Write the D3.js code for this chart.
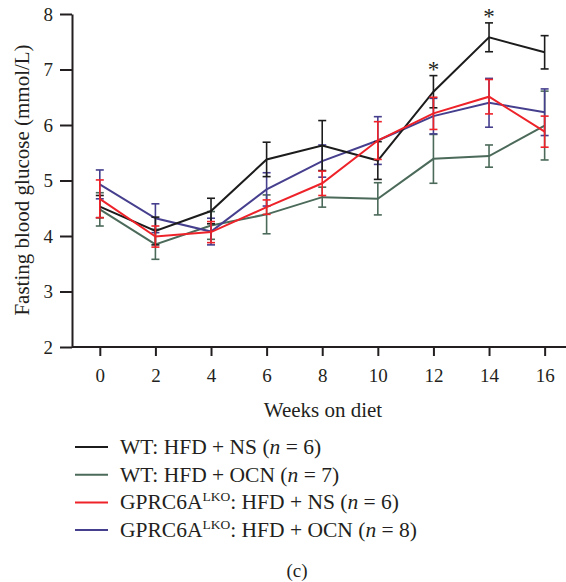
<!DOCTYPE html>
<html>
<head>
<meta charset="utf-8">
<script src="https://cdn.jsdelivr.net/npm/d3@7"></script>
<style>
  body { margin: 0; background: #fff; }
  svg text { font-family: "Liberation Serif", "DejaVu Serif", serif; fill: #231f20; }
</style>
</head>
<body>
<div id="chart"></div>
<script>
// data
const weeks = [0, 2, 4, 6, 8, 10, 12, 14, 16];

const wtNsMean   = [4.53, 4.09, 4.45, 5.38, 5.63, 5.36, 6.60, 7.58, 7.31];
const wtNsErr    = [0.20, 0.25, 0.23, 0.31, 0.45, 0.34, 0.29, 0.26, 0.30];
const wtOcnMean  = [4.48, 3.85, 4.19, 4.39, 4.70, 4.67, 5.39, 5.44, 5.99];
const wtOcnErr   = [0.30, 0.27, 0.25, 0.35, 0.18, 0.29, 0.44, 0.20, 0.62];
const koNsMean   = [4.67, 3.99, 4.07, 4.52, 4.95, 5.72, 6.21, 6.51, 5.88];
const koNsErr    = [0.34, 0.19, 0.19, 0.13, 0.22, 0.34, 0.29, 0.31, 0.28];
const koOcnMean  = [4.93, 4.32, 4.08, 4.84, 5.35, 5.72, 6.16, 6.40, 6.23];
const koOcnErr   = [0.26, 0.26, 0.24, 0.30, 0.29, 0.43, 0.32, 0.44, 0.42];

const yTicks = [2, 3, 4, 5, 6, 7, 8];
const starWeeks = [12, 14];

const series = [
  { name: "wtOcn", mean: wtOcnMean, err: wtOcnErr, color: "#4b6a5a" },
  { name: "koOcn", mean: koOcnMean, err: koOcnErr, color: "#453f8e" },
  { name: "wtNs",  mean: wtNsMean,  err: wtNsErr,  color: "#1c1c1c" },
  { name: "koNs",  mean: koNsMean,  err: koNsErr,  color: "#ee2229" }
];

const legendItems = [
  { color: "#1c1c1c", pre: "WT: HFD + NS (", n: "6" },
  { color: "#4b6a5a", pre: "WT: HFD + OCN (", n: "7" },
  { color: "#ee2229", pre: "GPRC6A", sup: "LKO", mid: ": HFD + NS (", n: "6" },
  { color: "#453f8e", pre: "GPRC6A", sup: "LKO", mid: ": HFD + OCN (", n: "8" }
];

const W = 566, H = 582;
const svg = d3.select("#chart").append("svg")
  .attr("width", W).attr("height", H);

const x = d3.scaleLinear().domain([-1.0, 17.2]).range([72, 578]);
const y = d3.scaleLinear().domain([2, 8]).range([347, 14]);

// axes
const xAxis = svg.append("g")
  .attr("transform", "translate(0,347)")
  .call(d3.axisBottom(x).tickValues(weeks).tickSize(9).tickPadding(13).tickSizeOuter(0));
xAxis.select(".domain").attr("d", "M72,0H566");

const yAxis = svg.append("g")
  .attr("transform", "translate(72,0)")
  .call(d3.axisLeft(y).tickValues(yTicks).tickFormat(d3.format("d")).tickSize(12).tickPadding(7).tickSizeOuter(0));

svg.selectAll(".domain, .tick line")
  .attr("stroke", "#231f20").attr("stroke-width", 2);
svg.selectAll(".tick text").attr("font-size", 19).attr("fill", "#231f20");

// axis titles
svg.append("text")
  .attr("x", 323).attr("y", 417)
  .attr("text-anchor", "middle")
  .attr("font-size", 21)
  .text("Weeks on diet");

svg.append("text")
  .attr("transform", "translate(29,180) rotate(-90)")
  .attr("text-anchor", "middle")
  .attr("font-size", 21)
  .text("Fasting blood glucose (mmol/L)");

// series
const line = d3.line().x((d, i) => x(weeks[i])).y(d => y(d));

series.forEach(s => {
  const g = svg.append("g");
  weeks.forEach((w, i) => {
    const cx = x(w), lo = y(s.mean[i] - s.err[i]), hi = y(s.mean[i] + s.err[i]);
    g.append("line").attr("x1", cx).attr("x2", cx).attr("y1", lo).attr("y2", hi)
      .attr("stroke", s.color).attr("stroke-width", 1.6);
    [lo, hi].forEach(v => g.append("line")
      .attr("x1", cx - 4).attr("x2", cx + 4).attr("y1", v).attr("y2", v)
      .attr("stroke", s.color).attr("stroke-width", 1.6));
  });
  g.append("path").datum(s.mean)
    .attr("fill", "none").attr("stroke", s.color)
    .attr("stroke-width", 2).attr("d", line);
});

// significance stars
starWeeks.forEach(w => {
  const i = weeks.indexOf(w);
  svg.append("text")
    .attr("x", x(w)).attr("y", y(wtNsMean[i] + wtNsErr[i]) + 1)
    .attr("text-anchor", "middle")
    .attr("font-size", 23)
    .text("*");
});

// legend
const lg = svg.append("g");
legendItems.forEach((d, i) => {
  const ly = 447 + i * 27.7;
  lg.append("line").attr("x1", 75).attr("x2", 108).attr("y1", ly).attr("y2", ly)
    .attr("stroke", d.color).attr("stroke-width", 2);
  const t = lg.append("text").attr("x", 120).attr("y", ly + 7).attr("font-size", 21.5);
  t.append("tspan").text(d.pre);
  if (d.sup) {
    t.append("tspan").attr("dy", -8).attr("font-size", 13.5).text(d.sup);
    t.append("tspan").attr("dy", 8).text(d.mid);
  }
  t.append("tspan").attr("font-style", "italic").text("n");
  t.append("tspan").text(" = " + d.n + ")");
});

svg.append("text")
  .attr("x", 297).attr("y", 577)
  .attr("text-anchor", "middle")
  .attr("font-size", 19)
  .text("(c)");
</script>
</body>
</html>
